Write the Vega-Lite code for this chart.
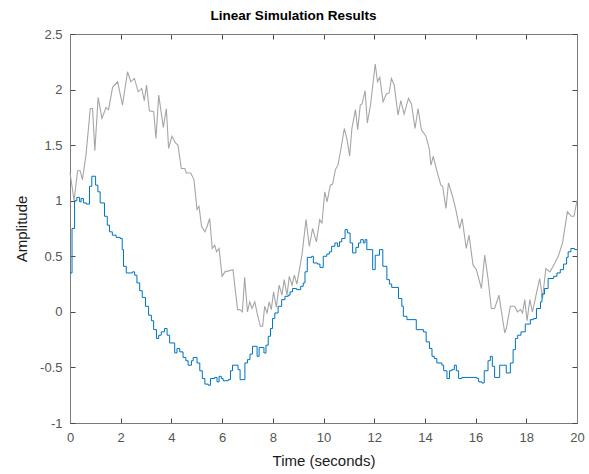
{
  "$schema": "https://vega.github.io/schema/vega-lite/v6.json",
  "width": 507,
  "height": 389,
  "autosize": "none",
  "padding": {"left": 70, "top": 34, "right": 12, "bottom": 51},
  "background": "white",
  "config": {
    "view": {"stroke": "#7a7a7a", "strokeWidth": 1},
    "font": "Liberation Sans",
    "axis": {
      "grid": false,
      "domainColor": "#7a7a7a",
      "tickColor": "#4a4a4a",
      "tickSize": -5,
      "labelColor": "#555555",
      "labelFont": "Liberation Sans",
      "labelFontSize": 13,
      "titleFont": "Liberation Sans",
      "titleFontSize": 15,
      "titleFontWeight": "normal",
      "titleColor": "#1a1a1a"
    }
  },
  "title": {"text": "Linear Simulation Results", "font": "Liberation Sans", "fontSize": 13.5, "fontWeight": "bold", "color": "#000000", "offset": 6, "dx": -30},
  "datasets": {
    "input": [
      {"t": 0.0, "u": 1.25}, {"t": 0.08, "u": 1.13}, {"t": 0.16, "u": 1.0}, {"t": 0.3, "u": 1.27}, {"t": 0.4, "u": 1.27},
      {"t": 0.49, "u": 1.19}, {"t": 0.63, "u": 1.41}, {"t": 0.8, "u": 1.83}, {"t": 0.89, "u": 1.83}, {"t": 0.98, "u": 1.45},
      {"t": 1.11, "u": 1.93}, {"t": 1.26, "u": 1.74}, {"t": 1.42, "u": 1.84}, {"t": 1.52, "u": 1.82}, {"t": 1.68, "u": 2.02},
      {"t": 1.88, "u": 2.07}, {"t": 2.07, "u": 1.86}, {"t": 2.27, "u": 2.16}, {"t": 2.4, "u": 2.07}, {"t": 2.54, "u": 2.1},
      {"t": 2.69, "u": 1.98}, {"t": 2.83, "u": 2.01}, {"t": 2.93, "u": 1.9}, {"t": 3.02, "u": 2.04}, {"t": 3.13, "u": 1.81},
      {"t": 3.3, "u": 1.8}, {"t": 3.39, "u": 1.56}, {"t": 3.5, "u": 1.95}, {"t": 3.68, "u": 1.66}, {"t": 3.8, "u": 1.83},
      {"t": 3.89, "u": 1.47}, {"t": 4.02, "u": 1.58}, {"t": 4.16, "u": 1.52}, {"t": 4.26, "u": 1.5}, {"t": 4.39, "u": 1.29},
      {"t": 4.53, "u": 1.29}, {"t": 4.59, "u": 1.25}, {"t": 4.76, "u": 1.25}, {"t": 4.89, "u": 1.19}, {"t": 5.01, "u": 0.92},
      {"t": 5.09, "u": 0.95}, {"t": 5.19, "u": 0.77}, {"t": 5.32, "u": 0.72}, {"t": 5.41, "u": 0.77}, {"t": 5.51, "u": 0.84},
      {"t": 5.61, "u": 0.57}, {"t": 5.71, "u": 0.6}, {"t": 5.78, "u": 0.54}, {"t": 5.88, "u": 0.57}, {"t": 6.0, "u": 0.32},
      {"t": 6.11, "u": 0.36}, {"t": 6.43, "u": 0.38}, {"t": 6.61, "u": 0.02}, {"t": 6.7, "u": 0.02}, {"t": 6.8, "u": 0.0},
      {"t": 6.89, "u": 0.31}, {"t": 7.0, "u": 0.0}, {"t": 7.09, "u": 0.09}, {"t": 7.18, "u": 0.03}, {"t": 7.29, "u": 0.09},
      {"t": 7.38, "u": -0.01}, {"t": 7.51, "u": -0.13}, {"t": 7.6, "u": -0.13}, {"t": 7.68, "u": 0.05}, {"t": 7.77, "u": -0.01},
      {"t": 7.86, "u": 0.09}, {"t": 7.94, "u": 0.02}, {"t": 8.03, "u": 0.18}, {"t": 8.14, "u": 0.04}, {"t": 8.25, "u": 0.24},
      {"t": 8.36, "u": 0.15}, {"t": 8.45, "u": 0.29}, {"t": 8.56, "u": 0.15}, {"t": 8.65, "u": 0.32}, {"t": 8.76, "u": 0.24},
      {"t": 8.85, "u": 0.33}, {"t": 8.95, "u": 0.25}, {"t": 9.15, "u": 0.51}, {"t": 9.31, "u": 0.83}, {"t": 9.44, "u": 0.59},
      {"t": 9.57, "u": 0.75}, {"t": 9.72, "u": 0.63}, {"t": 9.85, "u": 0.83}, {"t": 9.94, "u": 0.8}, {"t": 10.05, "u": 1.08},
      {"t": 10.14, "u": 0.99}, {"t": 10.27, "u": 1.14}, {"t": 10.36, "u": 1.15}, {"t": 10.47, "u": 1.28}, {"t": 10.57, "u": 1.32},
      {"t": 10.69, "u": 1.47}, {"t": 10.82, "u": 1.65}, {"t": 10.93, "u": 1.55}, {"t": 11.03, "u": 1.4}, {"t": 11.12, "u": 1.65},
      {"t": 11.26, "u": 1.82}, {"t": 11.35, "u": 1.64}, {"t": 11.45, "u": 1.86}, {"t": 11.52, "u": 1.87}, {"t": 11.64, "u": 1.99},
      {"t": 11.73, "u": 1.7}, {"t": 11.86, "u": 1.87}, {"t": 12.04, "u": 2.23}, {"t": 12.13, "u": 2.07}, {"t": 12.22, "u": 2.11},
      {"t": 12.35, "u": 1.89}, {"t": 12.48, "u": 1.96}, {"t": 12.59, "u": 1.97}, {"t": 12.68, "u": 2.1}, {"t": 12.79, "u": 2.04},
      {"t": 12.94, "u": 1.77}, {"t": 13.05, "u": 1.9}, {"t": 13.18, "u": 1.78}, {"t": 13.35, "u": 1.92}, {"t": 13.47, "u": 1.87},
      {"t": 13.61, "u": 1.65}, {"t": 13.73, "u": 1.83}, {"t": 13.86, "u": 1.64}, {"t": 14.04, "u": 1.58}, {"t": 14.17, "u": 1.47},
      {"t": 14.24, "u": 1.32}, {"t": 14.33, "u": 1.4}, {"t": 14.46, "u": 1.28}, {"t": 14.63, "u": 1.14}, {"t": 14.7, "u": 1.13},
      {"t": 14.83, "u": 0.93}, {"t": 14.93, "u": 1.16}, {"t": 15.09, "u": 1.04}, {"t": 15.22, "u": 0.92}, {"t": 15.37, "u": 0.75},
      {"t": 15.47, "u": 0.84}, {"t": 15.63, "u": 0.57}, {"t": 15.74, "u": 0.69}, {"t": 15.9, "u": 0.42}, {"t": 16.03, "u": 0.38},
      {"t": 16.23, "u": 0.21}, {"t": 16.36, "u": 0.51}, {"t": 16.49, "u": 0.3}, {"t": 16.62, "u": 0.03}, {"t": 16.75, "u": 0.03},
      {"t": 16.92, "u": 0.15}, {"t": 17.15, "u": -0.19}, {"t": 17.21, "u": -0.15}, {"t": 17.37, "u": 0.05}, {"t": 17.54, "u": 0.05},
      {"t": 17.65, "u": 0.0}, {"t": 17.77, "u": 0.02}, {"t": 17.85, "u": -0.01}, {"t": 17.94, "u": 0.11}, {"t": 18.03, "u": -0.08},
      {"t": 18.14, "u": 0.11}, {"t": 18.24, "u": 0.0}, {"t": 18.33, "u": 0.09}, {"t": 18.43, "u": 0.2}, {"t": 18.53, "u": 0.3},
      {"t": 18.64, "u": 0.12}, {"t": 18.77, "u": 0.39}, {"t": 18.93, "u": 0.36}, {"t": 19.06, "u": 0.41}, {"t": 19.26, "u": 0.5},
      {"t": 19.43, "u": 0.62}, {"t": 19.62, "u": 0.9}, {"t": 19.78, "u": 0.86}, {"t": 19.88, "u": 0.86}, {"t": 20.0, "u": 1.0}
    ],
    "output": [
      {"t": 0.0, "y": 0.35}, {"t": 0.08, "y": 0.75}, {"t": 0.18, "y": 1.0}, {"t": 0.27, "y": 1.03}, {"t": 0.38, "y": 0.99},
      {"t": 0.44, "y": 1.02}, {"t": 0.53, "y": 0.98}, {"t": 0.64, "y": 0.97}, {"t": 0.77, "y": 1.13}, {"t": 0.86, "y": 1.22},
      {"t": 1.01, "y": 1.14}, {"t": 1.1, "y": 1.08}, {"t": 1.19, "y": 0.98}, {"t": 1.36, "y": 0.86}, {"t": 1.47, "y": 0.78},
      {"t": 1.56, "y": 0.72}, {"t": 1.67, "y": 0.69}, {"t": 1.82, "y": 0.67}, {"t": 1.98, "y": 0.66}, {"t": 2.06, "y": 0.56},
      {"t": 2.11, "y": 0.41}, {"t": 2.22, "y": 0.35}, {"t": 2.46, "y": 0.36}, {"t": 2.55, "y": 0.33}, {"t": 2.64, "y": 0.26},
      {"t": 2.75, "y": 0.19}, {"t": 2.85, "y": 0.13}, {"t": 2.98, "y": 0.05}, {"t": 3.1, "y": -0.03}, {"t": 3.21, "y": -0.08},
      {"t": 3.3, "y": -0.16}, {"t": 3.41, "y": -0.24}, {"t": 3.5, "y": -0.21}, {"t": 3.6, "y": -0.18}, {"t": 3.73, "y": -0.15},
      {"t": 3.83, "y": -0.21}, {"t": 3.93, "y": -0.28}, {"t": 4.13, "y": -0.37}, {"t": 4.22, "y": -0.33}, {"t": 4.33, "y": -0.36},
      {"t": 4.46, "y": -0.41}, {"t": 4.57, "y": -0.44}, {"t": 4.66, "y": -0.48}, {"t": 4.79, "y": -0.44}, {"t": 4.86, "y": -0.41},
      {"t": 5.01, "y": -0.46}, {"t": 5.12, "y": -0.53}, {"t": 5.22, "y": -0.6}, {"t": 5.32, "y": -0.65}, {"t": 5.45, "y": -0.66},
      {"t": 5.54, "y": -0.6}, {"t": 5.71, "y": -0.59}, {"t": 5.8, "y": -0.63}, {"t": 5.88, "y": -0.58}, {"t": 5.97, "y": -0.6},
      {"t": 6.04, "y": -0.62}, {"t": 6.24, "y": -0.61}, {"t": 6.33, "y": -0.53}, {"t": 6.41, "y": -0.48}, {"t": 6.63, "y": -0.52},
      {"t": 6.71, "y": -0.61}, {"t": 6.9, "y": -0.46}, {"t": 7.0, "y": -0.43}, {"t": 7.1, "y": -0.38}, {"t": 7.2, "y": -0.31},
      {"t": 7.38, "y": -0.4}, {"t": 7.46, "y": -0.32}, {"t": 7.65, "y": -0.37}, {"t": 7.73, "y": -0.3}, {"t": 7.82, "y": -0.22},
      {"t": 7.91, "y": -0.15}, {"t": 7.99, "y": -0.06}, {"t": 8.08, "y": -0.01}, {"t": 8.21, "y": 0.05}, {"t": 8.35, "y": 0.11},
      {"t": 8.48, "y": 0.14}, {"t": 8.61, "y": 0.15}, {"t": 8.68, "y": 0.18}, {"t": 8.78, "y": 0.21}, {"t": 8.94, "y": 0.2},
      {"t": 9.1, "y": 0.23}, {"t": 9.2, "y": 0.26}, {"t": 9.27, "y": 0.36}, {"t": 9.36, "y": 0.49}, {"t": 9.53, "y": 0.5},
      {"t": 9.6, "y": 0.44}, {"t": 9.76, "y": 0.43}, {"t": 9.86, "y": 0.4}, {"t": 9.99, "y": 0.5}, {"t": 10.13, "y": 0.52},
      {"t": 10.23, "y": 0.54}, {"t": 10.32, "y": 0.59}, {"t": 10.45, "y": 0.62}, {"t": 10.55, "y": 0.59}, {"t": 10.63, "y": 0.63},
      {"t": 10.72, "y": 0.66}, {"t": 10.85, "y": 0.74}, {"t": 10.94, "y": 0.71}, {"t": 11.05, "y": 0.62}, {"t": 11.15, "y": 0.53},
      {"t": 11.28, "y": 0.58}, {"t": 11.38, "y": 0.62}, {"t": 11.47, "y": 0.65}, {"t": 11.57, "y": 0.62}, {"t": 11.64, "y": 0.65},
      {"t": 11.71, "y": 0.56}, {"t": 11.94, "y": 0.38}, {"t": 12.04, "y": 0.51}, {"t": 12.21, "y": 0.56}, {"t": 12.34, "y": 0.41},
      {"t": 12.5, "y": 0.29}, {"t": 12.6, "y": 0.25}, {"t": 12.69, "y": 0.22}, {"t": 12.96, "y": 0.12}, {"t": 13.09, "y": 0.05},
      {"t": 13.15, "y": -0.04}, {"t": 13.29, "y": -0.07}, {"t": 13.66, "y": -0.16}, {"t": 13.94, "y": -0.18}, {"t": 14.05, "y": -0.27},
      {"t": 14.18, "y": -0.33}, {"t": 14.28, "y": -0.4}, {"t": 14.37, "y": -0.42}, {"t": 14.47, "y": -0.46}, {"t": 14.67, "y": -0.48},
      {"t": 14.74, "y": -0.53}, {"t": 14.87, "y": -0.6}, {"t": 14.97, "y": -0.53}, {"t": 15.06, "y": -0.52}, {"t": 15.16, "y": -0.48},
      {"t": 15.24, "y": -0.53}, {"t": 15.33, "y": -0.6}, {"t": 15.46, "y": -0.59}, {"t": 16.05, "y": -0.6}, {"t": 16.12, "y": -0.63},
      {"t": 16.25, "y": -0.64}, {"t": 16.34, "y": -0.53}, {"t": 16.49, "y": -0.44}, {"t": 16.58, "y": -0.4}, {"t": 16.66, "y": -0.49},
      {"t": 16.75, "y": -0.59}, {"t": 16.95, "y": -0.48}, {"t": 17.11, "y": -0.48}, {"t": 17.21, "y": -0.55}, {"t": 17.37, "y": -0.46},
      {"t": 17.48, "y": -0.34}, {"t": 17.57, "y": -0.24}, {"t": 17.66, "y": -0.21}, {"t": 17.79, "y": -0.18}, {"t": 17.96, "y": -0.11},
      {"t": 18.16, "y": -0.07}, {"t": 18.29, "y": -0.06}, {"t": 18.4, "y": 0.03}, {"t": 18.56, "y": 0.09}, {"t": 18.62, "y": 0.16},
      {"t": 18.72, "y": 0.21}, {"t": 18.86, "y": 0.3}, {"t": 19.08, "y": 0.32}, {"t": 19.21, "y": 0.35}, {"t": 19.34, "y": 0.38},
      {"t": 19.47, "y": 0.43}, {"t": 19.59, "y": 0.49}, {"t": 19.65, "y": 0.54}, {"t": 19.76, "y": 0.57}, {"t": 19.9, "y": 0.56},
      {"t": 20.0, "y": 0.56}
    ]
  },
  "layer": [
    {
      "data": {"name": "input"},
      "mark": {"type": "line", "color": "#a6a6a6", "strokeWidth": 1.1},
      "encoding": {
        "x": {
          "field": "t", "type": "quantitative",
          "scale": {"domain": [0, 20], "nice": false, "zero": false},
          "axis": {"orient": "bottom", "title": "Time (seconds)", "values": [0, 2, 4, 6, 8, 10, 12, 14, 16, 18, 20], "labelPadding": 13, "titlePadding": 9, "labelFlush": false}
        },
        "y": {
          "field": "u", "type": "quantitative",
          "scale": {"domain": [-1, 2.5], "nice": false, "zero": false},
          "axis": {"orient": "left", "title": "Amplitude", "values": [-1, -0.5, 0, 0.5, 1, 1.5, 2, 2.5], "labelPadding": 13, "titlePadding": 10, "labelFlush": false,
                   "labelExpr": "replace(format(datum.value, '~g'), '\u2212', '-')"}
        }
      }
    },
    {
      "data": {"name": "output"},
      "mark": {"type": "line", "color": "#0072BD", "strokeWidth": 1, "interpolate": "step-after"},
      "encoding": {
        "x": {
          "field": "t", "type": "quantitative",
          "scale": {"domain": [0, 20], "nice": false, "zero": false},
          "axis": {"orient": "top", "title": null, "labels": false, "values": [0, 2, 4, 6, 8, 10, 12, 14, 16, 18, 20]}
        },
        "y": {
          "field": "y", "type": "quantitative",
          "scale": {"domain": [-1, 2.5], "nice": false, "zero": false},
          "axis": {"orient": "right", "title": null, "labels": false, "values": [-1, -0.5, 0, 0.5, 1, 1.5, 2, 2.5]}
        }
      }
    }
  ],
  "resolve": {"axis": {"x": "independent", "y": "independent"}}
}
